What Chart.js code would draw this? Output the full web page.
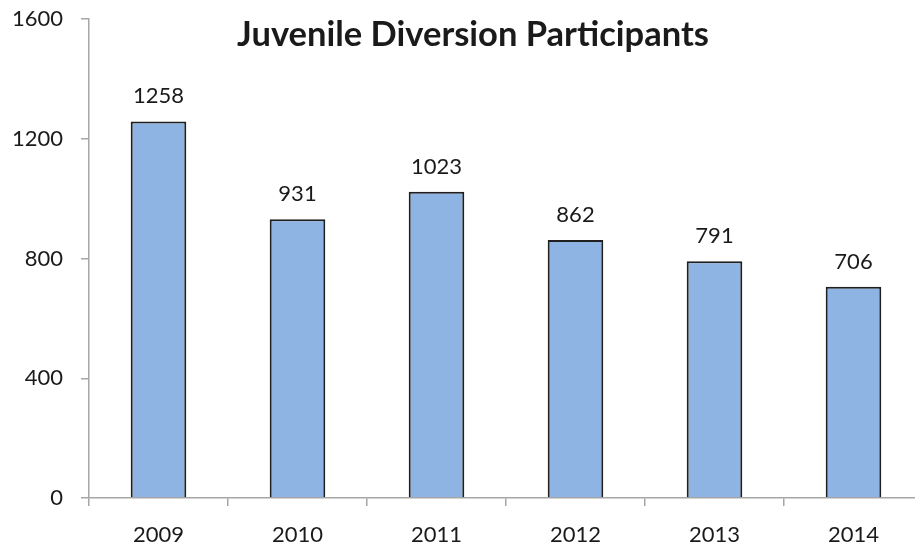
<!DOCTYPE html>
<html>
<head>
<meta charset="utf-8">
<script src="https://cdn.jsdelivr.net/npm/chart.js@4.4.1/dist/chart.umd.min.js"></script>
<style>
  html, body { margin: 0; padding: 0; background: #fff; overflow: hidden; width: 915px; height: 548px; }
  #wrap { width: 923px; height: 548px; }
</style>
</head>
<body>
<div id="wrap"><canvas id="chart" width="923" height="548"></canvas></div>
<script>
const years = ['2009', '2010', '2011', '2012', '2013', '2014'];
const participants = [1258, 931, 1023, 862, 791, 706];
const yTicks = [0, 400, 800, 1200, 1600];
const chartTitle = 'Juvenile Diversion Participants';

const FONT = 'Lato, "Open Sans", sans-serif';

// Title is drawn inside the plot area, like the original
const titlePlugin = {
    id: 'insideTitle',
    afterDraw(chart) {
        const ctx = chart.ctx;
        ctx.save();
        ctx.font = 'bold 34.5px ' + FONT;
        ctx.fillStyle = '#1a1a1a';
        ctx.textAlign = 'center';
        ctx.textBaseline = 'alphabetic';
        ctx.fillText(chartTitle, 473, 46);
        ctx.restore();
    }
};

// Value labels above bars
const valueLabels = {
    id: 'valueLabels',
    afterDatasetsDraw(chart) {
        const ctx = chart.ctx;
        const meta = chart.getDatasetMeta(0);
        ctx.save();
        ctx.font = '22px ' + FONT;
        ctx.fillStyle = '#1a1a1a';
        ctx.textAlign = 'center';
        ctx.textBaseline = 'middle';
        meta.data.forEach((bar, i) => {
            ctx.fillText(participants[i], bar.x, bar.y - 25);
        });
        ctx.restore();
    }
};

new Chart(document.getElementById('chart'), {
    type: 'bar',
    data: {
        labels: years,
        datasets: [{
            data: participants,
            backgroundColor: '#8EB4E3',
            borderColor: '#1f1f1f',
            borderWidth: 2,
            borderSkipped: 'bottom',
            categoryPercentage: 0.4,
            barPercentage: 1.0
        }]
    },
    options: {
        responsive: false,
        animation: false,
        devicePixelRatio: 1,
        layout: { padding: { top: 19, right: 0, left: 0, bottom: 0 } },
        plugins: {
            legend: { display: false },
            tooltip: { enabled: false },
            title: { display: false }
        },
        scales: {
            x: {
                grid: {
                    offset: true,
                    drawOnChartArea: false,
                    drawTicks: true,
                    tickLength: 8,
                    color: '#a6a6a6',
                    lineWidth: 1.5
                },
                border: { color: '#a6a6a6', width: 1.5 },
                ticks: {
                    font: { family: FONT, size: 22 },
                    color: '#1a1a1a',
                    padding: 16
                },
                afterFit(scale) {
                    scale.height = 50;
                    scale.paddingLeft = 0;
                    scale.paddingRight = 0;
                }
            },
            y: {
                min: 0,
                max: 1600,
                afterBuildTicks(scale) {
                    scale.ticks = yTicks.map(v => ({ value: v }));
                },
                grid: {
                    drawOnChartArea: false,
                    drawTicks: true,
                    tickLength: 8,
                    color: '#a6a6a6',
                    lineWidth: 1.5
                },
                border: { color: '#a6a6a6', width: 1.5 },
                ticks: {
                    font: { family: FONT, size: 22 },
                    color: '#1a1a1a',
                    padding: 18,
                    callback: v => String(v)
                },
                afterFit(scale) {
                    scale.width = 89;
                    scale.paddingTop = 0;
                    scale.paddingBottom = 0;
                }
            }
        }
    },
    plugins: [titlePlugin, valueLabels]
});
</script>
</body>
</html>
